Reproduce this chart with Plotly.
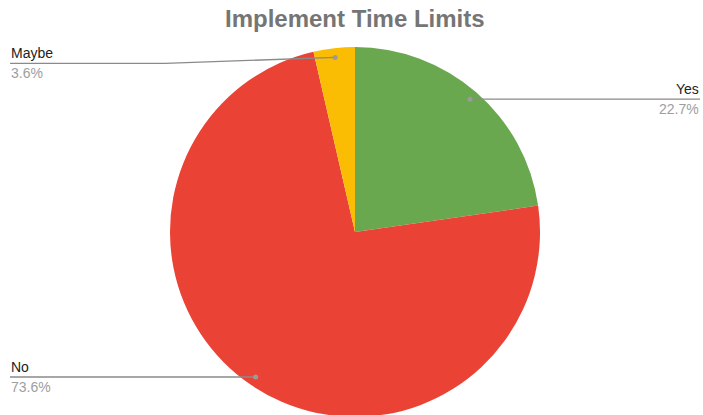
import math
import plotly.graph_objects as go

labels = ["Yes", "No", "Maybe"]
values = [22.7, 73.6, 3.6]
colors = ["#6aa84f", "#ea4335", "#fbbc04"]
label_side = ["right", "left", "left"]
elbow_offset = [0, 0, 6]  # px the label line sits below the dot

W, H = 703, 464
CX, CY, R = 355, 232, 185

def px(x):
    return x / W

def py(y):
    return 1 - y / H

fig = go.Figure(go.Pie(
    labels=labels, values=values, sort=False, direction="clockwise", rotation=0,
    marker=dict(colors=colors, line=dict(width=0)),
    textinfo="none", hoverinfo="label+percent", showlegend=False,
    domain=dict(x=[(CX - R) / W, (CX + R) / W], y=[0, 1]),
))

shapes, annotations = [], []
total = sum(values)
cum = 0
for lab, v, side, off in zip(labels, values, label_side, elbow_offset):
    mid = (cum + v / 2) / total * 2 * math.pi
    cum += v
    dx = CX + 0.95 * R * math.sin(mid)
    dy = CY - 0.95 * R * math.cos(mid)
    ly = dy + off
    end_x = 700 if side == "right" else 10
    elbow_x = dx if off == 0 else 165
    shapes.append(dict(type="line", xref="paper", yref="paper", x0=px(dx), y0=py(dy),
                       x1=px(elbow_x), y1=py(ly), line=dict(color="#8a8a8a", width=1.3)))
    shapes.append(dict(type="line", xref="paper", yref="paper", x0=px(elbow_x), y0=py(ly),
                       x1=px(end_x), y1=py(ly), line=dict(color="#8a8a8a", width=1.3)))
    shapes.append(dict(type="circle", xref="paper", yref="paper",
                       x0=px(dx - 2.5), x1=px(dx + 2.5), y0=py(dy + 2.5), y1=py(dy - 2.5),
                       fillcolor="#9a9a9a", line=dict(width=0)))
    anchor = "right" if side == "right" else "left"
    annotations.append(dict(text=lab, x=px(end_x), y=py(ly - 1), xref="paper", yref="paper",
                            xanchor=anchor, yanchor="bottom", showarrow=False,
                            font=dict(family="Liberation Sans, Arial", size=14, color="#222222"),
                            borderpad=0))
    annotations.append(dict(text=f"{v}%", x=px(end_x), y=py(ly + 1), xref="paper", yref="paper",
                            xanchor=anchor, yanchor="top", showarrow=False,
                            font=dict(family="Liberation Sans, Arial", size=14, color="#9e9e9e"),
                            borderpad=0))

annotations.append(dict(text="<b>Implement Time Limits</b>", x=px(355), y=py(18), xref="paper",
                        yref="paper", xanchor="center", yanchor="middle", showarrow=False,
                        font=dict(family="Liberation Sans, Arial", size=24, color="#757575")))

fig.update_layout(width=W, height=H, margin=dict(l=0, r=0, t=0, b=0),
                  paper_bgcolor="white", plot_bgcolor="white",
                  shapes=shapes, annotations=annotations)

fig.write_html("out.html", config={"displayModeBar": False},
               post_script="document.body.style.margin='0';document.body.style.overflow='hidden';document.documentElement.style.overflow='hidden';")
